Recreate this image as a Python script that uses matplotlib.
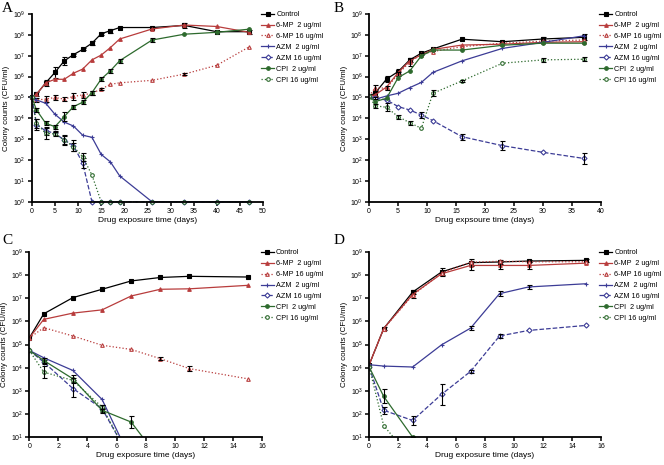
import matplotlib
matplotlib.use("Agg")
import matplotlib.pyplot as plt
import numpy as np
from matplotlib.ticker import NullLocator, MultipleLocator

plt.rcParams["font.family"] = ["Liberation Sans", "DejaVu Sans"]

LABELS = ["Control", "6-MP  2 ug/ml", "6-MP 16 ug/ml", "AZM  2 ug/ml",
          "AZM 16 ug/ml", "CPI  2 ug/ml", "CPI 16 ug/ml"]

# values are log10(CFU/ml)
# panel A
a_days = [0, 1, 3, 5, 7, 9, 11, 13, 15, 17, 19, 26, 33, 40, 47]
a_control = [5.0, 5.15, 5.7, 6.2, 6.75, 7.05, 7.3, 7.6, 8.05, 8.2, 8.35, 8.35, 8.45, 8.15, 8.15]
a_mp2 = [5.0, 5.15, 5.7, 5.87, 5.87, 6.16, 6.36, 6.8, 7.03, 7.39, 7.8, 8.28, 8.47, 8.4, 8.12]
a_mp16 = [5.0, 4.88, 4.92, 5.0, 4.92, 5.05, 5.12, 5.2, 5.4, 5.63, 5.7, 5.82, 6.12, 6.54, 7.42]
a_azm2 = [5.0, 4.88, 4.72, 4.19, 3.82, 3.63, 3.19, 3.09, 2.27, 1.91, 1.24, 0, 0, 0, 0]
a_azm16 = [5.0, 3.7, 3.4, 3.28, 2.96, 2.69, 1.85, 0, 0, 0, 0, 0, 0, 0, 0]
a_cpi2 = [5.0, 4.4, 3.76, 3.6, 4.08, 4.56, 4.77, 5.23, 5.88, 6.28, 6.76, 7.75, 8.03, 8.12, 8.27]
a_cpi16 = [5.0, 3.76, 3.28, 3.25, 2.96, 2.64, 2.16, 1.28, 0, 0, 0, 0, 0, 0, 0]

# panel B
b_days = [0, 1, 3, 5, 7, 9, 11, 16, 23, 30, 37]
b_control = [5.07, 5.2, 5.88, 6.24, 6.8, 7.12, 7.32, 7.79, 7.67, 7.8, 7.88]
b_mp2 = [5.07, 5.12, 5.5, 6.19, 6.76, 7.04, 7.3, 7.51, 7.55, 7.64, 7.67]
b_mp16 = [5.07, 5.45, 5.45, 6.12, 6.7, 7.06, 7.2, 7.43, 7.6, 7.7, 7.75]
b_azm2 = [5.07, 4.91, 5.07, 5.2, 5.47, 5.72, 6.2, 6.75, 7.35, 7.64, 7.95]
b_azm16 = [5.07, 4.96, 4.88, 4.56, 4.4, 4.16, 3.89, 3.12, 2.69, 2.37, 2.08]
b_cpi2 = [5.07, 4.8, 4.96, 5.95, 6.27, 6.99, 7.27, 7.27, 7.5, 7.6, 7.6]
b_cpi16 = [5.07, 4.6, 4.53, 4.08, 3.79, 3.52, 5.2, 5.79, 6.64, 6.8, 6.83]

# panel C
c_days = [0, 1, 3, 5, 7, 9, 11, 15]
c_control = [5.28, 6.33, 7.03, 7.39, 7.75, 7.9, 7.95, 7.92]
c_mp2 = [5.28, 6.09, 6.36, 6.5, 7.1, 7.39, 7.41, 7.56]
c_mp16 = [5.28, 5.73, 5.37, 4.97, 4.79, 4.39, 3.96, 3.52]
c_azm2 = [4.75, 4.43, 3.88, 2.63, 0, 0, 0, 0]
c_azm16 = [4.75, 4.24, 3.1, 2.23, 0, 0, 0, 0]
c_cpi2 = [4.75, 4.31, 3.52, 2.16, 1.65, 0, 0, 0]
c_cpi16 = [4.75, 3.81, 3.45, 2.3, 0, 0, 0, 0]

# panel D
d_days = [0, 1, 3, 5, 7, 9, 11, 15]
d_control = [4.13, 5.69, 7.27, 8.14, 8.54, 8.57, 8.61, 8.64]
d_mp2 = [4.13, 5.69, 7.17, 8.06, 8.42, 8.42, 8.42, 8.52]
d_mp16 = [4.13, 5.69, 7.13, 8.1, 8.56, 8.6, 8.58, 8.58]
d_azm2 = [4.13, 4.07, 4.03, 4.99, 5.71, 7.2, 7.49, 7.63]
d_azm16 = [4.03, 2.16, 1.72, 2.85, 3.84, 5.37, 5.61, 5.83]
d_cpi2 = [4.03, 2.76, 1.0, 0, 0, 0, 0, 0]
d_cpi16 = [4.03, 1.5, 0, 0, 0, 0, 0, 0]

# error half-widths (log10), estimated
a_err = {0: [0, 0.1, 0.15, 0.25, 0.2, 0.05, 0.05, 0.1, 0.05, 0.1, 0, 0, 0.1, 0, 0.1],
         2: [0, 0.1, 0.15, 0.1, 0.1, 0.15, 0.15, 0.1, 0.05, 0, 0, 0, 0.05, 0, 0],
         4: [0, 0.25, 0.2, 0.1, 0.2, 0.25, 0.25, 0, 0, 0, 0, 0, 0, 0, 0],
         5: [0, 0.1, 0.1, 0.1, 0.2, 0.1, 0.1, 0.1, 0.1, 0.1, 0.1, 0.1, 0, 0, 0],
         6: [0, 0.2, 0.25, 0.1, 0.25, 0.2, 0.2, 0, 0, 0, 0, 0, 0, 0, 0]}
b_err = {0: [0, 0.15, 0.15, 0.1, 0.1, 0.05, 0, 0, 0.05, 0.1, 0.15],
         2: [0, 0.15, 0.1, 0.1, 0.2, 0.05, 0, 0, 0, 0, 0],
         4: [0, 0.05, 0, 0, 0, 0.15, 0, 0.15, 0.2, 0, 0.25],
         6: [0, 0.1, 0.2, 0.1, 0.1, 0, 0.15, 0.05, 0, 0.1, 0.1]}
c_err = {0: [0, 0, 0, 0, 0, 0, 0, 0],
         2: [0, 0, 0, 0, 0, 0.07, 0.1, 0],
         4: [0, 0.1, 0.35, 0.15, 0, 0, 0, 0],
         5: [0, 0.1, 0.15, 0.1, 0.25, 0, 0, 0],
         6: [0, 0.25, 0.1, 0.1, 0, 0, 0, 0]}
d_err = {0: [0, 0.05, 0.1, 0.15, 0.15, 0.1, 0.05, 0.05],
         1: [0, 0, 0.15, 0.1, 0.2, 0.15, 0.15, 0],
         3: [0, 0, 0, 0, 0.1, 0.1, 0.1, 0],
         4: [0, 0.15, 0.2, 0.45, 0.08, 0.08, 0, 0],
         5: [0, 0.3, 0, 0, 0, 0, 0, 0]}

COLORS = ["black", "#b83c3c", "#b83c3c", "#3c3c96", "#3c3c96", "#2d6a2d", "#2d6a2d"]
STYLES = ["-", "-", ":", "-", "--", "-", ":"]
MARKERS = ["s", "^", "^", "+", "D", "o", "o"]
FILLED = [True, True, False, True, False, True, False]


def draw(ax, days, series, errs, xmax, xstep, ymin_exp, xlabel, xlabel_y, letter, letter_xy, clip):
    days = np.array(days)
    for i, vals in enumerate(series):
        y = 10.0 ** np.array(vals)
        face = COLORS[i] if FILLED[i] else "white"
        ax.plot(days, y, linestyle=STYLES[i], color=COLORS[i], marker=MARKERS[i],
                markersize=2.6, markerfacecolor=face, markeredgecolor=COLORS[i],
                markeredgewidth=0.8, linewidth=0.9, label=LABELS[i], clip_on=clip)
        if i in errs:
            e = np.array(errs[i])
            m = e > 0
            yy = np.array(vals)[m]
            lo = 10.0 ** yy - 10.0 ** (yy - e[m])
            hi = 10.0 ** (yy + e[m]) - 10.0 ** yy
            ax.errorbar(days[m], 10.0 ** yy, yerr=[lo, hi], fmt="none",
                        ecolor="black", elinewidth=0.8, capsize=1.8, capthick=0.8)
    ax.set_yscale("log")
    ax.set_ylim(10.0 ** ymin_exp, 1e9)
    ax.set_xlim(0, xmax)
    ax.set_yticks([10.0 ** k for k in range(ymin_exp, 10)])
    ax.yaxis.set_minor_locator(NullLocator())
    ax.xaxis.set_major_locator(MultipleLocator(xstep))
    ax.spines["top"].set_visible(False)
    ax.spines["right"].set_visible(False)
    ax.spines["left"].set_linewidth(1.3)
    ax.spines["bottom"].set_linewidth(1.3)
    ax.tick_params(direction="out", length=3, width=1.1, labelsize=5, pad=1.5)
    ax.set_xlabel(xlabel, fontsize=6)
    ax.xaxis.set_label_coords(0.5, xlabel_y)
    ax.xaxis.label.set_verticalalignment("center")
    ax.set_ylabel("Colony counts (CFU/ml)", fontsize=5.8, labelpad=2)
    ax.legend(loc="upper left", bbox_to_anchor=(0.98, 1.03), frameon=False,
              fontsize=5.2, handlelength=1.8, handletextpad=0.3, labelspacing=0.53,
              borderaxespad=0.0)
    ax.figure.text(letter_xy[0], letter_xy[1], letter,
                   fontsize=11, family="Liberation Serif", va="top")


fig = plt.figure(figsize=(6.64, 4.65), dpi=100)
ax_a = fig.add_axes([0.048, 0.566, 0.348, 0.404])
ax_b = fig.add_axes([0.556, 0.566, 0.349, 0.404])
ax_c = fig.add_axes([0.044, 0.060, 0.351, 0.398])
ax_d = fig.add_axes([0.556, 0.060, 0.349, 0.398])

draw(ax_a, a_days, [a_control, a_mp2, a_mp16, a_azm2, a_azm16, a_cpi2, a_cpi16],
     a_err, 50, 5, 0, "Drug exposure time (days)", -0.1, "A", (0.003, 0.995), False)
draw(ax_b, b_days, [b_control, b_mp2, b_mp16, b_azm2, b_azm16, b_cpi2, b_cpi16],
     b_err, 40, 5, 0, "Drug expsoure time (days)", -0.1, "B", (0.503, 0.995), True)
draw(ax_c, c_days, [c_control, c_mp2, c_mp16, c_azm2, c_azm16, c_cpi2, c_cpi16],
     c_err, 16, 2, 1, "Drug exposure time (days)", -0.097, "C", (0.003, 0.497), True)
draw(ax_d, d_days, [d_control, d_mp2, d_mp16, d_azm2, d_azm16, d_cpi2, d_cpi16],
     d_err, 16, 2, 1, "Drug exposure time (days)", -0.097, "D", (0.503, 0.497), True)

fig.savefig("out.png", dpi=100)
